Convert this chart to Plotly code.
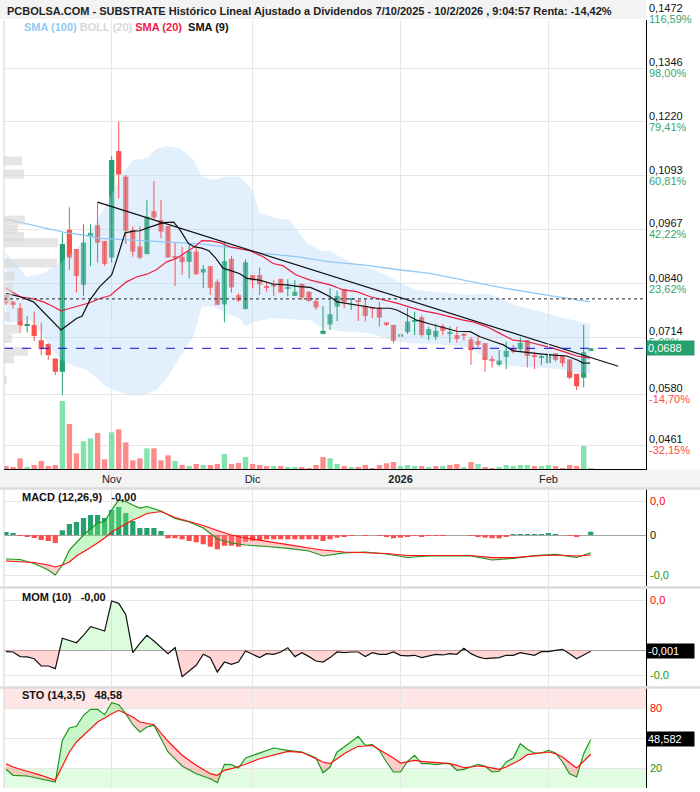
import plotly.graph_objects as go

FONT = "Liberation Sans, Arial, sans-serif"

# ---------------- data ----------------
month_ticks = [15, 35, 56, 77]
month_text = ["Nov", "Dic", "<b>2026</b>", "Feb"]

price_ticks = [0.1472, 0.1346, 0.1220, 0.1093, 0.0967, 0.0840, 0.0714, 0.0580, 0.0461]
price_tick_text = ["0,1472", "0,1346", "0,1220", "0,1093", "0,0967", "0,0840", "0,0714", "0,0580", "0,0461"]
pct_tick_text = ["116,59%", "98,00%", "79,41%", "60,81%", "42,22%", "23,62%", "5,08%", "-14,70%", "-32,15%"]

opens = [0.0813, 0.0797, 0.0783, 0.0741, 0.0743, 0.0707, 0.0698, 0.0664, 0.0633, 0.0966,
         0.0921, 0.0837, 0.0952, 0.0977, 0.0940, 0.0901, 0.1151, 0.1091, 0.0966, 0.0927,
         0.0909, 0.1010, 0.0989, 0.0975, 0.0903, 0.0903, 0.0891, 0.0915, 0.0866, 0.0881,
         0.0844, 0.0791, 0.0898, 0.0813, 0.0780, 0.0860, 0.0860, 0.0834, 0.0839, 0.0851,
         0.0828, 0.0811, 0.0839, 0.0821, 0.0799, 0.0722, 0.0744, 0.0786, 0.0827, 0.0802,
         0.0799, 0.0788, 0.0782, 0.0784, 0.0749, 0.0743, 0.0715, 0.0726, 0.0750, 0.0761,
         0.0719, 0.0715, 0.0740, 0.0722, 0.0719, 0.0722, 0.0709, 0.0705, 0.0700, 0.0662,
         0.0650, 0.0668, 0.0688, 0.0686, 0.0707, 0.0671, 0.0667, 0.0653, 0.0676, 0.0670,
         0.0662, 0.0628, 0.0619, 0.0682]
highs = [0.0817, 0.0800, 0.0794, 0.0764, 0.0774, 0.0748, 0.0700, 0.0664, 0.0959, 0.1019,
         0.0921, 0.0979, 0.0979, 0.1031, 0.0940, 0.1139, 0.1220, 0.1095, 0.0974, 0.0974,
         0.1036, 0.1081, 0.1036, 0.0975, 0.0936, 0.0926, 0.0932, 0.0926, 0.0883, 0.0881,
         0.0850, 0.0938, 0.0905, 0.0817, 0.0897, 0.0860, 0.0878, 0.0844, 0.0848, 0.0851,
         0.0850, 0.0848, 0.0840, 0.0821, 0.0805, 0.0787, 0.0829, 0.0823, 0.0827, 0.0805,
         0.0799, 0.0804, 0.0782, 0.0797, 0.0749, 0.0743, 0.0747, 0.0783, 0.0774, 0.0766,
         0.0739, 0.0745, 0.0745, 0.0739, 0.0739, 0.0724, 0.0715, 0.0717, 0.0700, 0.0670,
         0.0684, 0.0704, 0.0696, 0.0714, 0.0707, 0.0680, 0.0672, 0.0676, 0.0676, 0.0670,
         0.0662, 0.0628, 0.0743, 0.0688]
lows = [0.0790, 0.0782, 0.0725, 0.0725, 0.0705, 0.0672, 0.0661, 0.0625, 0.0578, 0.0872,
        0.0819, 0.0811, 0.0881, 0.0889, 0.0881, 0.0889, 0.1040, 0.0933, 0.0903, 0.0897,
        0.0909, 0.0989, 0.0946, 0.0901, 0.0834, 0.0860, 0.0852, 0.0860, 0.0829, 0.0813,
        0.0790, 0.0749, 0.0819, 0.0797, 0.0780, 0.0829, 0.0813, 0.0821, 0.0811, 0.0819,
        0.0810, 0.0811, 0.0801, 0.0797, 0.0778, 0.0721, 0.0731, 0.0752, 0.0782, 0.0778,
        0.0752, 0.0751, 0.0759, 0.0739, 0.0740, 0.0700, 0.0700, 0.0722, 0.0719, 0.0715,
        0.0707, 0.0707, 0.0719, 0.0701, 0.0701, 0.0706, 0.0649, 0.0690, 0.0633, 0.0643,
        0.0646, 0.0639, 0.0676, 0.0680, 0.0643, 0.0639, 0.0649, 0.0646, 0.0657, 0.0645,
        0.0615, 0.0590, 0.0596, 0.0682]
closes = [0.0794, 0.0790, 0.0741, 0.0742, 0.0717, 0.0686, 0.0672, 0.0633, 0.0933, 0.0901,
          0.0858, 0.0936, 0.0959, 0.0936, 0.0886, 0.1130, 0.1096, 0.0964, 0.0915, 0.0901,
          0.0997, 0.0995, 0.0962, 0.0901, 0.0902, 0.0890, 0.0916, 0.0862, 0.0874, 0.0830,
          0.0790, 0.0893, 0.0831, 0.0800, 0.0890, 0.0847, 0.0838, 0.0830, 0.0833, 0.0819,
          0.0829, 0.0821, 0.0807, 0.0799, 0.0784, 0.0729, 0.0768, 0.0811, 0.0797, 0.0803,
          0.0797, 0.0764, 0.0781, 0.0760, 0.0745, 0.0706, 0.0721, 0.0751, 0.0751, 0.0719,
          0.0733, 0.0729, 0.0729, 0.0726, 0.0710, 0.0717, 0.0684, 0.0696, 0.0661, 0.0660,
          0.0659, 0.0682, 0.0680, 0.0701, 0.0670, 0.0669, 0.0670, 0.0675, 0.0661, 0.0653,
          0.0619, 0.0599, 0.0679, 0.0688]
volumes = [45000, 25000, 160000, 25000, 60000, 120000, 45000, 60000, 1020000, 675000,
           235000, 415000, 460000, 540000, 145000, 550000, 595000, 400000, 130000, 160000,
           310000, 310000, 130000, 205000, 120000, 60000, 45000, 75000, 60000, 60000,
           75000, 225000, 75000, 90000, 180000, 75000, 60000, 45000, 45000, 45000,
           30000, 30000, 30000, 15000, 60000, 180000, 160000, 75000, 45000, 30000,
           30000, 60000, 15000, 60000, 85000, 105000, 45000, 60000, 45000, 45000,
           30000, 45000, 45000, 60000, 75000, 30000, 105000, 75000, 30000, 5000,
           30000, 60000, 45000, 60000, 60000, 45000, 45000, 60000, 45000, 5000,
           60000, 45000, 345000, 5000]
volume_dir = ("rrrgrrrrgr" "rggrrgrrrr" "grrrgrgrgr" "rgrrgrrrgr" "ggrrrrggrg"
              "rrrrrrgggr" "grgrrgrgrr" "gggggrggrr" "rrgg")

ref_level = 0.0804
last_price = 0.0688

sma9_x = [0, 2.0, 3.9, 5.3, 6.7, 7.8, 9.1, 10.0, 10.8, 11.9, 13.3, 15.0, 15.7, 16.9, 18.1, 19.0,
          20.0, 21.2, 22.3, 23.8, 24.7, 25.9, 26.8, 27.8, 28.8, 29.8, 30.8, 31.8, 33.2, 34.2,
          36.0, 37.9, 39.8, 41.7, 43.2, 44.6, 46.0, 47.0, 48.8, 50.7, 52.6, 54.5, 55.5, 56.9,
          58.3, 60.2, 62.0, 64.0, 65.9, 67.3, 69.2, 70.6, 72.0, 73.9, 75.8, 77.7, 79.6, 81.0,
          81.9, 82.9]
sma9_y = [0.0817, 0.0809, 0.0797, 0.0774, 0.0750, 0.0731, 0.0747, 0.0758, 0.0764, 0.0801,
          0.0833, 0.0860, 0.0895, 0.0959, 0.0963, 0.0964, 0.0970, 0.0977, 0.0983, 0.0984,
          0.0966, 0.0934, 0.0926, 0.0923, 0.0917, 0.0899, 0.0876, 0.0871, 0.0863, 0.0852,
          0.0848, 0.0839, 0.0837, 0.0833, 0.0831, 0.0821, 0.0809, 0.0797, 0.0792, 0.0787,
          0.0782, 0.0782, 0.0778, 0.0766, 0.0754, 0.0745, 0.0737, 0.0728, 0.0727, 0.0715,
          0.0704, 0.0696, 0.0682, 0.0678, 0.0675, 0.0672, 0.0670, 0.0661, 0.0654, 0.0653]

sma20_x = [0, 2.0, 3.9, 5.3, 6.7, 7.8, 9.1, 10.5, 11.9, 13.3, 14.8, 15.7, 17.1, 18.6, 20.0,
           21.4, 22.8, 24.2, 25.6, 26.8, 27.8, 29.0, 30.4, 31.8, 33.2, 34.6, 36.5, 37.9, 39.3,
           41.2, 43.2, 44.1, 46.0, 47.9, 49.8, 51.7, 53.6, 55.5, 57.4, 59.2, 61.1, 63.0, 64.9,
           66.3, 68.2, 70.1, 72.0, 73.9, 75.8, 77.7, 79.6, 81.0, 82.9]
sma20_y = [0.0829, 0.0809, 0.0804, 0.0797, 0.0786, 0.0776, 0.0782, 0.0788, 0.0795, 0.0805,
           0.0812, 0.0825, 0.0844, 0.0856, 0.0862, 0.0873, 0.0891, 0.0899, 0.0915, 0.0927,
           0.0941, 0.0940, 0.0936, 0.0926, 0.0922, 0.0917, 0.0903, 0.0887, 0.0882, 0.0860,
           0.0848, 0.0844, 0.0837, 0.0825, 0.0821, 0.0809, 0.0801, 0.0794, 0.0784, 0.0776,
           0.0770, 0.0762, 0.0754, 0.0750, 0.0739, 0.0723, 0.0707, 0.0704, 0.0696, 0.0688,
           0.0678, 0.0670, 0.0665]

sma100_x = [0, 3.9, 6.7, 8.6, 11.0, 13.3, 18.1, 22.8, 27.5, 31.8, 36.5, 41.2, 46.0, 50.7,
            55.5, 60.2, 64.4, 70.1, 76.7, 81.5, 82.9]
sma100_y = [0.0991, 0.0977, 0.0966, 0.0959, 0.0954, 0.0946, 0.0942, 0.0938, 0.0933, 0.0925,
            0.0911, 0.0903, 0.0891, 0.0884, 0.0873, 0.0864, 0.0850, 0.0831, 0.0813, 0.0800,
            0.0797]

boll_up_x = [0, 2.9, 5.3, 7.7, 9.3, 11.5, 14.3, 16.7, 18.1, 20.0, 21.4, 22.8, 24.7, 26.6, 27.8,
             29.4, 31.3, 33.2, 35.0, 36.0, 38.0, 40.3, 42.7, 45.0, 46.0, 47.4, 49.3, 51.7, 54.0,
             56.4, 58.3, 61.1, 64.0, 65.9, 67.3, 69.2, 72.0, 73.9, 76.7, 78.6, 81.5, 82.9]
boll_up_y = [0.0911, 0.0856, 0.0864, 0.0888, 0.0911, 0.0950, 0.1028, 0.1103, 0.1130, 0.1134,
             0.1157, 0.1163, 0.1157, 0.1130, 0.1091, 0.1083, 0.1091, 0.1091, 0.1060, 0.1005,
             0.0995, 0.0989, 0.0934, 0.0915, 0.0917, 0.0903, 0.0888, 0.0876, 0.0860, 0.0837,
             0.0825, 0.0821, 0.0817, 0.0813, 0.0817, 0.0813, 0.0790, 0.0782, 0.0770, 0.0762,
             0.0750, 0.0746]
boll_lo_x = [0, 3.5, 5.3, 7.7, 9.3, 11.5, 14.3, 16.7, 18.1, 20.0, 21.4, 22.8, 24.7, 26.6, 27.8,
             29.4, 31.3, 33.2, 33.9, 35.6, 37.5, 39.4, 41.3, 43.2, 45.0, 47.9, 49.8, 51.7, 53.6,
             55.5, 57.4, 60.2, 63.0, 65.9, 68.0, 70.0, 72.0, 75.0, 78.0, 81.0, 82.9]
boll_lo_y = [0.0747, 0.0754, 0.0715, 0.0662, 0.0649, 0.0637, 0.0598, 0.0582, 0.0578, 0.0581,
             0.0590, 0.0618, 0.0668, 0.0715, 0.0786, 0.0786, 0.0770, 0.0758, 0.0740, 0.0751,
             0.0758, 0.0758, 0.0755, 0.0755, 0.0735, 0.0727, 0.0727, 0.0723, 0.0714, 0.0704,
             0.0700, 0.0698, 0.0696, 0.0690, 0.0664, 0.0652, 0.0646, 0.0643, 0.0640, 0.0632,
             0.0628]

trend_x = [13, 86.9]
trend_y = [0.1031, 0.0646]

vp_price = [0.1128, 0.1097, 0.0989, 0.0968, 0.0950, 0.0936, 0.0888, 0.0857, 0.0831, 0.0806,
            0.0763, 0.0733, 0.0711, 0.0681, 0.0663, 0.0614]
vp_volume = [18, 20, 21, 14, 20, 54, 53, 11, 9, 8, 6, 16, 8, 24, 10, 3]

macd_hist = [0.0003, 0.0002, -0.0001, -0.00013, -0.0003, -0.0005, -0.0006, -0.0008, 0.00047, 0.0011,
             0.0013, 0.0017, 0.0020, 0.0020, 0.0017, 0.0025, 0.0028, 0.0022, 0.0014, 0.0007,
             0.0007, 0.0007, 0.0004, -0.00033, -0.00033, -0.00043, -0.0006, -0.00073, -0.00093, -0.00117,
             -0.00143, -0.00107, -0.00107, -0.00117, -0.00067, -0.0006, -0.0005, -0.00043, -0.00043, -0.00043,
             -0.00043, -0.00043, -0.00043, -0.00043, -0.00043, -0.0006, -0.00043, -0.00027, -0.00017, -0.0001,
             0.0, -0.0001, 0.0, -0.0001, -0.00017, -0.00033, -0.00027, -0.00017, -0.0001, -0.00017,
             -0.0001, -0.00007, -0.00007, 0.0, 0.0, 0.0, -0.0001, -0.00017, -0.00027, -0.00033,
             -0.00033, -0.00017, 0.00007, 0.00007, 0.00007, 0.00007, 0.00007, 0.00017, 0.00007, 0.0,
             -0.0001, -0.00017, 0.0, 0.00033]
macd_x = [0, 2, 4, 6, 7, 8, 9, 10, 11, 12, 13, 14, 15, 16, 17, 18, 19, 20, 22, 24, 26, 28, 30,
          32, 34, 37, 40, 43, 45, 48, 51, 54, 57, 60, 63, 66, 69, 72, 75, 78, 81, 83]
macd_line = [-0.0024, -0.00245, -0.00285, -0.0035, -0.0040, -0.0030, -0.0015, -0.0007, 0.0, 0.0006,
             0.0012, 0.00135, 0.0025, 0.0035, 0.00335, 0.0030, 0.0027, 0.00285, 0.0024, 0.00165,
             0.0013, 0.0007, -0.0004, -0.0008, -0.0010, -0.00115, -0.00133, -0.0016, -0.0021, -0.00178,
             -0.0017, -0.0019, -0.00225, -0.0021, -0.0021, -0.0021, -0.0025, -0.00233, -0.00207, -0.00193,
             -0.00225, -0.00177]
macd_signal = [-0.0026, -0.00265, -0.00275, -0.0030, -0.0032, -0.0030, -0.0027, -0.0021, -0.0017, -0.00125,
               -0.0008, -0.0003, 0.0003, 0.0007, 0.0011, 0.0015, 0.0018, 0.00215, 0.00235, 0.00175,
               0.00135, 0.00095, 0.00045, 0.0, -0.0003, -0.00067, -0.00097, -0.0013, -0.0015, -0.0017,
               -0.00175, -0.00185, -0.00205, -0.00203, -0.00203, -0.00205, -0.00227, -0.00227, -0.0021, -0.0020,
               -0.0021, -0.0020]

mom = [-0.0015, -0.0018, -0.0060, -0.0063, -0.0079, -0.0145, -0.0145, -0.0169, 0.0106, 0.0088,
       0.0066, 0.0133, 0.0211, 0.0193, 0.0172, 0.0444, 0.0423, 0.0323, -0.0024, 0.0060,
       0.0133, 0.0082, 0.0027, -0.0033, 0.0021, -0.0242, -0.0190, -0.0139, -0.0039, -0.0069,
       -0.0199, -0.0109, -0.0130, -0.0109, -0.0009, -0.0039, -0.0069, -0.0033, -0.0039, -0.0018,
       0.0021, -0.0060, -0.0024, -0.0060, -0.0100, -0.0109, -0.0069, -0.0018, -0.0024, -0.0018,
       -0.0018, -0.0060, -0.0024, -0.0039, -0.0039, -0.0018, -0.0048, -0.0054, -0.0048, -0.0069,
       -0.0054, -0.0039, -0.0045, -0.0033, -0.0039, 0.0015, -0.0033, -0.0063, -0.0079, -0.0076,
       -0.0069, -0.0048, -0.0048, -0.0024, -0.0039, -0.0048, -0.0015, -0.0015, -0.0003, 0.0006,
       -0.0033, -0.0079, -0.0045, -0.0012]

sto_x = [0, 1, 3, 5, 7, 8, 9, 10, 11, 12, 13, 14, 15, 16, 17, 18, 19, 20, 21, 23, 25, 27, 29, 30,
         31, 32, 33, 34, 36, 38, 40, 42, 44, 45, 46, 47, 48, 49, 50, 51, 52, 53, 54, 55, 56, 57,
         58, 59, 60, 61, 62, 63, 64, 65, 66, 67, 68, 69, 70, 71, 72, 73, 74, 75, 76, 77, 78, 79,
         80, 81, 82, 83]
sto_k = [18.7, 12.7, 12.0, 9.3, 6.0, 47.7, 60.0, 61.7, 72.7, 78.7, 78.7, 73.3, 85.3, 83.3, 74.3,
         63.3, 56.0, 61.0, 62.7, 36.0, 22.0, 14.3, 9.3, 5.3, 23.7, 23.3, 20.0, 30.0, 35.3, 40.0,
         37.7, 36.0, 30.0, 15.3, 21.0, 36.0, 41.0, 46.0, 51.7, 42.7, 43.3, 37.7, 26.0, 16.0, 16.0,
         26.7, 32.7, 24.3, 24.3, 23.3, 24.3, 24.3, 17.7, 18.7, 21.0, 23.7, 21.7, 16.0, 16.7, 26.0,
         30.0, 44.3, 38.7, 35.0, 35.0, 37.7, 35.0, 26.0, 14.3, 11.0, 34.3, 48.58]
sto_d = [24.3, 21.0, 16.7, 12.7, 7.7, 22.7, 36.0, 46.0, 52.7, 60.0, 66.0, 70.0, 74.3, 77.7, 74.3,
         71.0, 66.0, 64.3, 63.3, 46.7, 32.7, 22.7, 14.3, 12.7, 17.7, 19.3, 21.3, 23.7, 29.3, 33.3,
         36.7, 35.7, 28.7, 26.0, 24.3, 29.3, 34.3, 38.3, 41.7, 42.0, 42.7, 38.3, 34.3, 30.0, 25.0,
         26.0, 27.7, 26.7, 26.0, 25.7, 25.3, 24.3, 22.7, 20.3, 21.0, 22.0, 21.3, 20.3, 18.7, 21.0,
         24.3, 28.3, 33.3, 34.3, 35.0, 36.0, 34.3, 31.0, 25.3, 20.0, 26.7, 33.7]

# ---------------- layout geometry ----------------
W, H = 700, 792
PL, PR = 4, 646          # plot area left/right in px


def fy(px):
    return 1 - px / H


def fx(px):
    return (px - PL) / (PR - PL)


GREEN = "#26a06f"
RED = "#f9534f"
VGREEN = "#84e3ad"
VRED = "#ff8a8a"
PCT_GREEN = "#35a673"
PCT_RED = "#ff4a4a"
AX_RED = "#ff0000"
AX_GREEN = "#129812"

fig = go.Figure()
idx = list(range(len(closes)))

# Bollinger band
fig.add_trace(go.Scatter(x=boll_up_x + boll_lo_x[::-1], y=boll_up_y + boll_lo_y[::-1],
                         fill="toself", fillcolor="rgba(176,216,246,0.38)", mode="lines",
                         line=dict(width=0), hoverinfo="skip", xaxis="x", yaxis="y"))
# volume-by-price profile
fig.add_trace(go.Bar(x=vp_volume, y=vp_price, orientation="h", width=0.0021,
                     marker=dict(color="rgba(215,215,215,0.65)", line=dict(width=0)),
                     xaxis="x5", yaxis="y", hoverinfo="skip"))
# volume (own axis in the lower part of the price panel)
fig.add_trace(go.Bar(x=idx, y=volumes, width=0.76,
                     marker=dict(color=[VGREEN if d == "g" else VRED for d in volume_dir],
                                 line=dict(width=0), opacity=1),
                     xaxis="x", yaxis="y5", hoverinfo="skip"))

# candles: wicks + bodies
for col, up in ((GREEN, True), (RED, False)):
    wx, wy = [], []
    for i in idx:
        if (closes[i] >= opens[i]) == up:
            wx += [i, i, None]
            wy += [lows[i], highs[i], None]
    fig.add_trace(go.Scatter(x=wx, y=wy, mode="lines", line=dict(color=col, width=1),
                             hoverinfo="skip", xaxis="x", yaxis="y"))
body_base = [min(o, c) for o, c in zip(opens, closes)]
body_h = [max(abs(c - o), 0.00025) for o, c in zip(opens, closes)]
fig.add_trace(go.Bar(x=idx, y=body_h, base=body_base, width=0.74,
                     marker=dict(color=[GREEN if c >= o else RED for o, c in zip(opens, closes)],
                                 line=dict(width=0), opacity=1),
                     xaxis="x", yaxis="y", hoverinfo="skip"))

# moving averages and trend line
fig.add_trace(go.Scatter(x=sma100_x, y=sma100_y, mode="lines", line=dict(color="#92c9f3", width=1.3),
                         xaxis="x", yaxis="y", hoverinfo="skip"))
fig.add_trace(go.Scatter(x=sma20_x, y=sma20_y, mode="lines", line=dict(color="#ee1d43", width=1.2),
                         xaxis="x", yaxis="y", hoverinfo="skip"))
fig.add_trace(go.Scatter(x=sma9_x, y=sma9_y, mode="lines", line=dict(color="#111111", width=1.2),
                         xaxis="x", yaxis="y", hoverinfo="skip"))
fig.add_trace(go.Scatter(x=trend_x, y=trend_y, mode="lines", line=dict(color="#111111", width=1.2),
                         xaxis="x", yaxis="y", hoverinfo="skip"))


def two_color_fill(xs, a, b, xa, ya, col_up, col_dn):
    X, A, B = [], [], []
    for k in range(len(xs)):
        if k > 0:
            d0 = a[k - 1] - b[k - 1]
            d1 = a[k] - b[k]
            if d0 * d1 < 0:
                t = d0 / (d0 - d1)
                X.append(xs[k - 1] + t * (xs[k] - xs[k - 1]))
                yc = b[k - 1] + t * (b[k] - b[k - 1])
                A.append(yc)
                B.append(yc)
        X.append(xs[k])
        A.append(a[k])
        B.append(b[k])
    up = [max(p, q) for p, q in zip(A, B)]
    dn = [min(p, q) for p, q in zip(A, B)]
    for top, col in ((up, col_up), (dn, col_dn)):
        fig.add_trace(go.Scatter(x=X, y=B, mode="lines", line=dict(width=0), xaxis=xa, yaxis=ya,
                                 hoverinfo="skip"))
        fig.add_trace(go.Scatter(x=X, y=top, mode="lines", line=dict(width=0), fill="tonexty",
                                 fillcolor=col, xaxis=xa, yaxis=ya, hoverinfo="skip"))


# MACD panel
fig.add_trace(go.Bar(x=idx, y=macd_hist, width=0.74,
                     marker=dict(color=[GREEN if v >= 0 else "#ff4d4d" for v in macd_hist],
                                 line=dict(width=0), opacity=1),
                     xaxis="x2", yaxis="y2", hoverinfo="skip"))
two_color_fill(macd_x, macd_line, macd_signal, "x2", "y2",
               "rgba(120,235,120,0.40)", "rgba(255,130,130,0.40)")
fig.add_trace(go.Scatter(x=macd_x, y=macd_line, mode="lines", line=dict(color="#1e961e", width=1.2),
                         xaxis="x2", yaxis="y2", hoverinfo="skip"))
fig.add_trace(go.Scatter(x=macd_x, y=macd_signal, mode="lines", line=dict(color="#ff1010", width=1.2),
                         xaxis="x2", yaxis="y2", hoverinfo="skip"))

# MOM panel
two_color_fill(idx, mom, [0.0] * len(mom), "x3", "y3",
               "rgba(170,245,170,0.40)", "rgba(255,160,160,0.45)")
fig.add_trace(go.Scatter(x=idx, y=mom, mode="lines", line=dict(color="#111111", width=1.2),
                         xaxis="x3", yaxis="y3", hoverinfo="skip"))

# STO panel
two_color_fill(sto_x, sto_k, sto_d, "x4", "y4",
               "rgba(120,235,120,0.40)", "rgba(255,130,130,0.40)")
fig.add_trace(go.Scatter(x=sto_x, y=sto_k, mode="lines", line=dict(color="#1e961e", width=1.2),
                         xaxis="x4", yaxis="y4", hoverinfo="skip"))
fig.add_trace(go.Scatter(x=sto_x, y=sto_d, mode="lines", line=dict(color="#ff1010", width=1.2),
                         xaxis="x4", yaxis="y4", hoverinfo="skip"))

# ---------------- axes ----------------
x_range = [(PL - 6.0) / 7.045, (PR - 6.0) / 7.045]
grid = "#e6e6e6"
common_x = dict(range=x_range, tickvals=month_ticks, showgrid=True, gridcolor=grid, gridwidth=1,
                zeroline=False, ticks="", fixedrange=True)

main_bot, main_top = 0.1346 - (469 - 68) / 4260, 0.1346 + (68 - 20) / 4260
macd_lo, macd_hi = -(586 - 535) * 0.0001, (535 - 489) * 0.0001
mom_lo, mom_hi = -(686 - 650) * 0.000906, (650 - 589) * 0.000906
VOL_TOP_PX = 320          # volume axis occupies px 320..469 of the price panel

layout = dict(
    width=W, height=H, margin=dict(l=PL, r=W - PR, t=0, b=0, pad=0),
    paper_bgcolor="white", plot_bgcolor="rgba(0,0,0,0)", showlegend=False, barmode="overlay",
    font=dict(family=FONT, size=11, color="#222"),
    xaxis=dict(common_x, domain=[0, 1], anchor="y", ticktext=month_text, showticklabels=True,
               tickfont=dict(size=11, color="#222"), showline=True, linecolor="black", linewidth=1),
    xaxis2=dict(common_x, domain=[0, 1], anchor="y2", matches="x", showticklabels=False),
    xaxis3=dict(common_x, domain=[0, 1], anchor="y3", matches="x", showticklabels=False),
    xaxis4=dict(common_x, domain=[0, 1], anchor="y4", matches="x", showticklabels=False),
    xaxis5=dict(overlaying="x", anchor="y", range=[0, PR - PL], visible=False, fixedrange=True),
    yaxis=dict(domain=[fy(469), fy(20)], range=[main_bot, main_top], side="right",
               tickvals=price_ticks, showticklabels=False, showgrid=True, gridcolor=grid,
               zeroline=False, showline=True, linecolor="black", linewidth=1, ticks="",
               fixedrange=True),
    yaxis5=dict(domain=[fy(469), fy(VOL_TOP_PX)], range=[0, (469 - VOL_TOP_PX) * 15000],
                autorange=False, visible=False, showgrid=False, zeroline=False, fixedrange=True,
                anchor="x"),
    yaxis2=dict(domain=[fy(586), fy(489)], range=[macd_lo, macd_hi], side="right",
                tickvals=[0.0034, -0.0040], showticklabels=False, showgrid=True, gridcolor=grid,
                zeroline=True, zerolinecolor="#a3a3a3", zerolinewidth=1, showline=True,
                linecolor="black", linewidth=1, ticks="", fixedrange=True),
    yaxis3=dict(domain=[fy(686), fy(589)], range=[mom_lo, mom_hi], side="right",
                tickvals=[0.0453, -0.0227], showticklabels=False, showgrid=True, gridcolor=grid,
                zeroline=True, zerolinecolor="#a3a3a3", zerolinewidth=1, showline=True,
                linecolor="black", linewidth=1, ticks="", fixedrange=True),
    yaxis4=dict(domain=[fy(788), fy(688)], range=[0, 100], side="right",
                tickvals=[80, 50, 20], showticklabels=False, showgrid=True, gridcolor=grid,
                zeroline=False, showline=True, linecolor="black", linewidth=1, ticks="",
                fixedrange=True),
)
fig.update_layout(**layout)

# ---------------- shapes ----------------
shapes = [
    dict(type="rect", xref="paper", yref="paper", x0=fx(0), x1=1, y0=fy(19), y1=1,
         fillcolor="#f3f3f3", line=dict(width=0), layer="below"),
    dict(type="rect", xref="paper", yref="paper", x0=fx(0), x1=fx(W), y0=fy(488), y1=fy(469.5),
         fillcolor="#f3f3f3", line=dict(width=0), layer="below"),
    dict(type="rect", xref="paper", yref="y4", x0=0, x1=1, y0=80, y1=100,
         fillcolor="#ffe6e6", line=dict(width=0), layer="below"),
    dict(type="rect", xref="paper", yref="y4", x0=0, x1=1, y0=0, y1=20,
         fillcolor="#e2fce2", line=dict(width=0), layer="below"),
    dict(type="line", xref="paper", yref="y", x0=0, x1=1, y0=ref_level, y1=ref_level,
         line=dict(color="#222", width=1, dash="dot")),
    dict(type="line", xref="paper", yref="y", x0=0, x1=1, y0=last_price, y1=last_price,
         line=dict(color="#1010d0", width=1, dash="dash")),
]
for ysep in (488.5, 587.5, 687.5):
    shapes.append(dict(type="line", xref="paper", yref="paper", x0=fx(0), x1=fx(W), y0=fy(ysep),
                       y1=fy(ysep), line=dict(color="#dcdcdc", width=2.5)))
for y0, y1 in ((20, 469), (489, 586), (589, 686), (688, 788)):
    shapes.append(dict(type="line", xref="paper", yref="paper", x0=0, x1=0, y0=fy(y1), y1=fy(y0),
                       line=dict(color="#d4d4d4", width=1)))
fig.update_layout(shapes=shapes)

# ---------------- annotations ----------------
ann = []
ann.append(dict(xref="paper", yref="paper", x=fx(5), y=fy(11), xanchor="left", yanchor="middle",
                showarrow=False,
                text="<b>PCBOLSA.COM - SUBSTRATE Histórico Lineal Ajustado a Dividendos 7/10/2025 - "
                     "10/2/2026 , 9:04:57 Renta: -14,42%</b>",
                font=dict(family=FONT, size=11, color="#222")))
ann.append(dict(xref="paper", yref="paper", x=fx(22), y=fy(27), xanchor="left", yanchor="middle",
                showarrow=False,
                text="<b><span style='color:#92c9f3'>SMA (100)</span> "
                     "<span style='color:#d8d8d8'>BOLL (20)</span> "
                     "<span style='color:#ee1d43'>SMA (20)</span>  "
                     "<span style='color:#111'>SMA (9)</span></b>",
                font=dict(family=FONT, size=11)))
for v, pt, pc in zip(price_ticks, price_tick_text, pct_tick_text):
    col = PCT_RED if pc.startswith("-") else PCT_GREEN
    if v > main_top:   # label above the visible range: place in paper coordinates
        yr, yv = "paper", fy(68 - (v - 0.1346) * 4260)
    else:
        yr, yv = "y", v
    ann.append(dict(xref="paper", yref=yr, x=1, y=yv, xanchor="left", yanchor="middle", xshift=1,
                    yshift=6, showarrow=False, text=pt, font=dict(family=FONT, size=11, color="#111")))
    ann.append(dict(xref="paper", yref=yr, x=1, y=yv, xanchor="left", yanchor="middle", xshift=1,
                    yshift=-5, showarrow=False, text=pc, font=dict(family=FONT, size=11, color=col)))
ann.append(dict(xref="paper", yref="y", x=1, y=last_price, xanchor="left", yanchor="middle",
                xshift=0, showarrow=False, text="0,0688", bgcolor=GREEN, borderpad=1, width=45,
                align="left", font=dict(family=FONT, size=11, color="white")))

# panel titles
for ytxt, txt in ((497, "MACD (12,26,9)   -0,00"), (597, "MOM (10)   -0,00"),
                  (695, "STO (14,3,5)   48,58")):
    ann.append(dict(xref="paper", yref="paper", x=fx(20), y=fy(ytxt), xanchor="left",
                    yanchor="middle", showarrow=False, text="<b>" + txt + "</b>",
                    font=dict(family=FONT, size=11, color="#111")))

# panel right labels
side_labels = [("y2", 0.0034, "0,0", AX_RED), ("y2", 0.0, "0", "#111"), ("y2", -0.0040, "-0,0", AX_GREEN),
               ("y3", 0.0453, "0,0", AX_RED), ("y3", -0.0227, "-0,0", AX_GREEN),
               ("y4", 80, "80", AX_RED), ("y4", 20, "20", AX_GREEN)]
for yr, v, t, c in side_labels:
    ann.append(dict(xref="paper", yref=yr, x=1, y=v, xanchor="left", yanchor="middle", xshift=2,
                    showarrow=False, text=t, font=dict(family=FONT, size=11, color=c)))
for yr, v, t in (("y3", mom[-1], "-0,001"), ("y4", sto_k[-1], "48,582")):
    ann.append(dict(xref="paper", yref=yr, x=1, y=v, xanchor="left", yanchor="middle", xshift=0,
                    showarrow=False, text=t, bgcolor="black", borderpad=1, width=45, align="left",
                    font=dict(family=FONT, size=11, color="white")))
fig.update_layout(annotations=ann)

fig.write_html("out.html", config={"displayModeBar": False},
               post_script="document.body.style.margin='0px';")
